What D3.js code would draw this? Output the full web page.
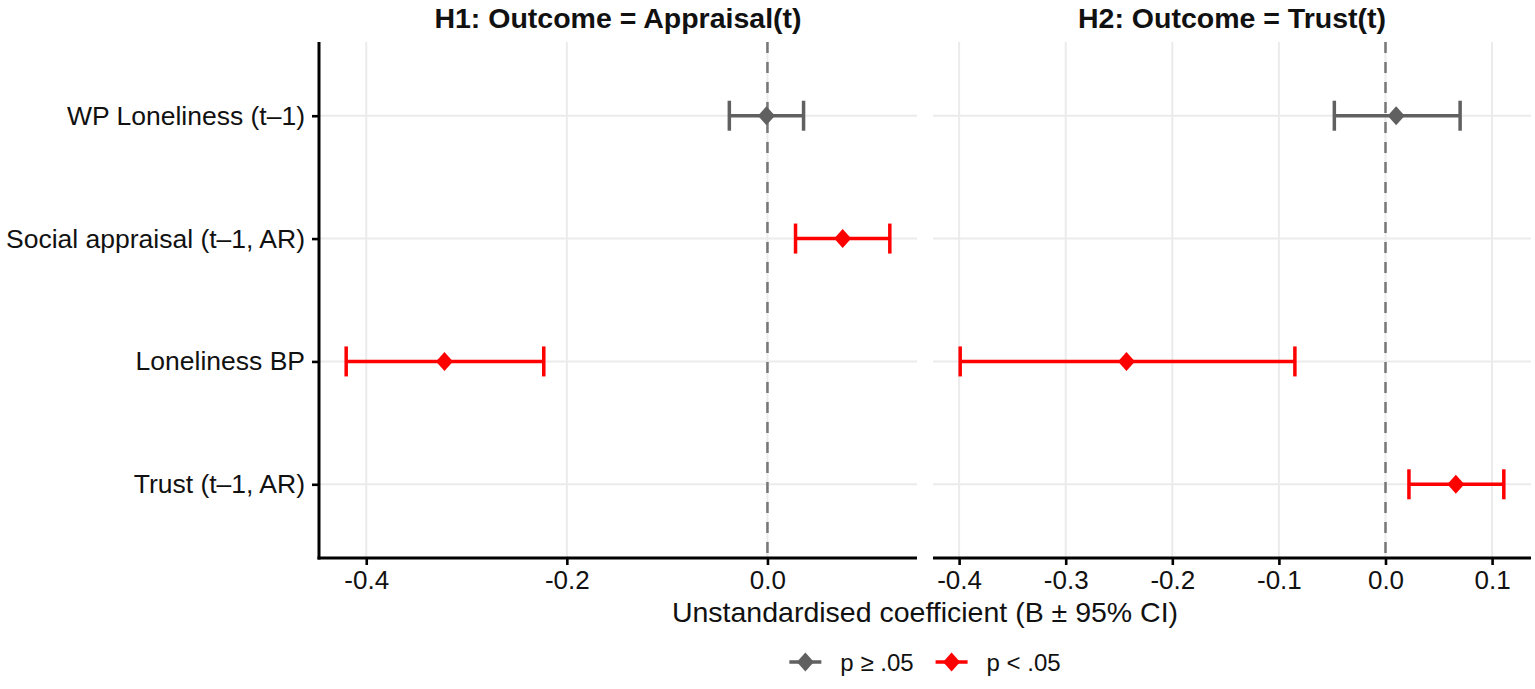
<!DOCTYPE html>
<html>
<head>
<meta charset="utf-8">
<script src="https://cdn.jsdelivr.net/npm/d3@7"></script>
<style>
  body { margin: 0; background: #fff; }
  text { font-family: "Liberation Sans", Arial, sans-serif; }
</style>
</head>
<body>
<svg id="chart" width="1535" height="689"></svg>
<script>
/* Data */
const terms = ["WP Loneliness (t\u20131)", "Social appraisal (t\u20131, AR)", "Loneliness BP", "Trust (t\u20131, AR)"];
const panelTitles = ["H1: Outcome = Appraisal(t)", "H2: Outcome = Trust(t)"];

const h1Term = ["WP Loneliness (t\u20131)", "Social appraisal (t\u20131, AR)", "Loneliness BP"];
const h1Est = [-0.001, 0.075, -0.322];
const h1Lo = [-0.038, 0.028, -0.420];
const h1Hi = [0.036, 0.122, -0.223];
const h1Sig = [false, true, true];

const h2Term = ["WP Loneliness (t\u20131)", "Loneliness BP", "Trust (t\u20131, AR)"];
const h2Est = [0.010, -0.243, 0.066];
const h2Lo = [-0.048, -0.399, 0.022];
const h2Hi = [0.070, -0.085, 0.111];
const h2Sig = [false, true, true];

const h1Ticks = [-0.4, -0.2, 0.0];
const h2Ticks = [-0.4, -0.3, -0.2, -0.1, 0.0, 0.1];

const legendLabels = ["p \u2265 .05", "p < .05"];
const sigColors = { false: "#606060", true: "#ff0000" };

const svg = d3.select("#chart");

/* layout */
const plotTop = 42, plotBottom = 558;
const panelW = 598, panelGap = 16, leftX = 319;
const fmt = v => d3.format(".1f")(v).replace("\u2212", "-");

const y = d3.scalePoint()
    .domain(terms)
    .range([plotTop, plotBottom])
    .padding(0.6);

function makeRows(term, est, lo, hi, sig) {
    return term.map((t, i) => ({ term: t, est: est[i], lo: lo[i], hi: hi[i], sig: sig[i] }));
}

const panels = [
    { title: panelTitles[0], rows: makeRows(h1Term, h1Est, h1Lo, h1Hi, h1Sig), ticks: h1Ticks },
    { title: panelTitles[1], rows: makeRows(h2Term, h2Est, h2Lo, h2Hi, h2Sig), ticks: h2Ticks }
];

function diamond(cx, cy, w, h) {
    return `M${cx},${cy - h}L${cx + w},${cy}L${cx},${cy + h}L${cx - w},${cy}Z`;
}

panels.forEach((p, k) => {
    const x0 = leftX + k * (panelW + panelGap);
    const lo = d3.min(p.rows, d => d.lo), hi = d3.max(p.rows, d => d.hi);
    const pad = (hi - lo) * 0.05;
    const x = d3.scaleLinear().domain([lo - pad, hi + pad]).range([x0, x0 + panelW]);

    const g = svg.append("g").attr("class", "panel");

    /* grid */
    g.selectAll(".vgrid").data(p.ticks).enter().append("line")
        .attr("x1", d => x(d)).attr("x2", d => x(d))
        .attr("y1", plotTop).attr("y2", plotBottom)
        .attr("stroke", "#ebebeb").attr("stroke-width", 2);
    g.selectAll(".hgrid").data(terms).enter().append("line")
        .attr("x1", x0).attr("x2", x0 + panelW)
        .attr("y1", d => y(d)).attr("y2", d => y(d))
        .attr("stroke", "#ebebeb").attr("stroke-width", 2);

    /* zero reference line */
    g.append("line")
        .attr("x1", x(0)).attr("x2", x(0))
        .attr("y1", plotTop).attr("y2", plotBottom)
        .attr("stroke", "#777").attr("stroke-width", 2.5)
        .attr("stroke-dasharray", "11,9");

    /* x axis */
    const xAxis = d3.axisBottom(x).tickValues(p.ticks).tickFormat(fmt).tickSize(7).tickPadding(6);
    const ax = g.append("g")
        .attr("transform", "translate(0," + plotBottom + ")")
        .call(xAxis);
    ax.select(".domain").remove();
    ax.append("line")
        .attr("x1", x0 - (k === 0 ? 1.5 : 0)).attr("x2", x0 + panelW)
        .attr("stroke", "#000").attr("stroke-width", 3);
    ax.selectAll(".tick line").attr("stroke", "#000").attr("stroke-width", 2.6);
    ax.selectAll(".tick text")
        .attr("fill", "#111")
        .style("font-size", "26px")
        .style("font-family", "'Liberation Sans', Arial, sans-serif");

    /* y axis only on first panel */
    if (k === 0) {
        const yAxis = d3.axisLeft(y).tickSize(7).tickPadding(7);
        const ay = g.append("g")
            .attr("transform", "translate(" + x0 + ",0)")
            .call(yAxis);
        ay.select(".domain").remove();
        ay.append("line")
            .attr("y1", plotTop).attr("y2", plotBottom + 1.5)
            .attr("stroke", "#000").attr("stroke-width", 3);
        ay.selectAll(".tick line").attr("stroke", "#000").attr("stroke-width", 2.6);
        ay.selectAll(".tick text")
            .attr("fill", "#111")
            .style("font-size", "26.5px")
            .style("font-family", "'Liberation Sans', Arial, sans-serif");
    }

    /* error bars */
    const bars = g.selectAll(".err").data(p.rows).enter().append("g").attr("class", "err");
    bars.append("line")
        .attr("x1", d => x(d.lo)).attr("x2", d => x(d.hi))
        .attr("y1", d => y(d.term)).attr("y2", d => y(d.term))
        .attr("stroke", d => sigColors[d.sig]).attr("stroke-width", 3.5);
    bars.append("line")
        .attr("x1", d => x(d.lo)).attr("x2", d => x(d.lo))
        .attr("y1", d => y(d.term) - 15).attr("y2", d => y(d.term) + 15)
        .attr("stroke", d => sigColors[d.sig]).attr("stroke-width", 3.5);
    bars.append("line")
        .attr("x1", d => x(d.hi)).attr("x2", d => x(d.hi))
        .attr("y1", d => y(d.term) - 15).attr("y2", d => y(d.term) + 15)
        .attr("stroke", d => sigColors[d.sig]).attr("stroke-width", 3.5);
    bars.append("path")
        .attr("d", d => diamond(x(d.est), y(d.term), 8.5, 9.5))
        .attr("fill", d => sigColors[d.sig]);

    /* strip title */
    svg.append("text")
        .attr("x", x0 + panelW / 2)
        .attr("y", 28)
        .attr("text-anchor", "middle")
        .style("font-size", "28.5px")
        .style("font-weight", "700")
        .attr("fill", "#111")
        .text(p.title);
});

/* axis title */
const centerX = leftX + (2 * panelW + panelGap) / 2;
svg.append("text")
    .attr("x", centerX)
    .attr("y", 622)
    .attr("text-anchor", "middle")
    .style("font-size", "28.5px")
    .attr("fill", "#111")
    .text("Unstandardised coefficient (B \u00b1 95% CI)");

/* legend */
const legY = 662, keyW = 32, keyGap = 19, itemGap = 22;
const leg = svg.append("g");
let cursor = 0;
legendLabels.forEach((lab, i) => {
    const col = sigColors[i === 1];
    const item = leg.append("g").attr("transform", "translate(" + cursor + ",0)");
    item.append("line")
        .attr("x1", 0).attr("x2", keyW)
        .attr("y1", legY).attr("y2", legY)
        .attr("stroke", col).attr("stroke-width", 3.5);
    item.append("path")
        .attr("d", diamond(keyW / 2, legY, 8.5, 9.5))
        .attr("fill", col);
    const t = item.append("text")
        .attr("x", keyW + keyGap)
        .attr("y", legY + 9)
        .style("font-size", "24px")
        .attr("fill", "#111")
        .text(lab);
    cursor += keyW + keyGap + t.node().getComputedTextLength() + itemGap;
});
const legW = cursor - itemGap;
leg.attr("transform", "translate(" + (centerX - legW / 2) + ",0)");
</script>
</body>
</html>
